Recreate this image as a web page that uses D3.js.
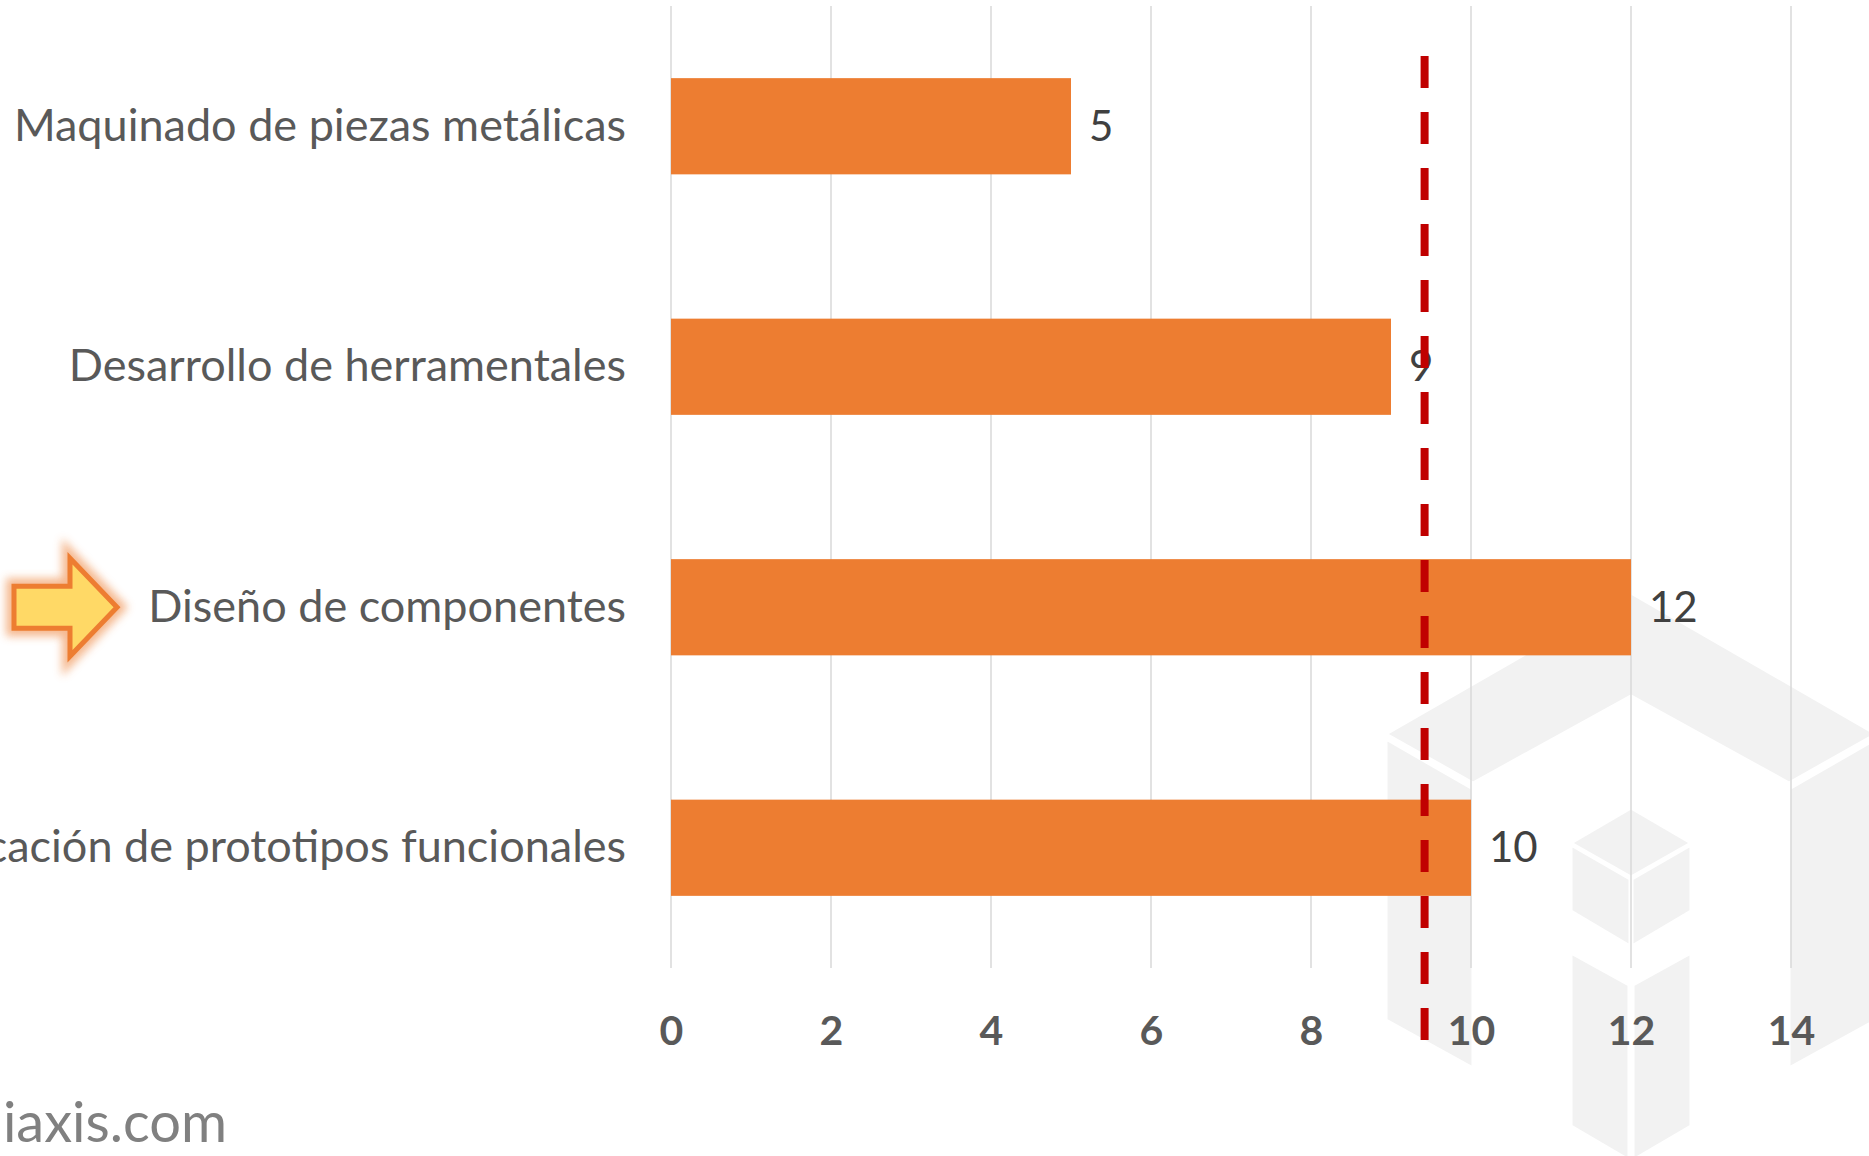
<!DOCTYPE html>
<html>
<head>
<meta charset="utf-8">
<script src="https://cdn.jsdelivr.net/npm/d3@7"></script>
<style>
  html, body { margin: 0; padding: 0; background: #ffffff; }
  svg { display: block; }
</style>
</head>
<body>
<svg id="chart" width="1869" height="1156"></svg>
<script>
// ---- data ----
const categories = [
  "Maquinado de piezas metálicas",
  "Desarrollo de herramentales",
  "Diseño de componentes",
  "Fabricación de prototipos funcionales"
];
const values = [5, 9, 12, 10];
const tickValues = [0, 2, 4, 6, 8, 10, 12, 14];
const tickLabels = ["0", "2", "4", "6", "8", "10", "12", "14"];
const referenceValue = 9.42;
const highlightedCategory = "Diseño de componentes";
const watermarkText = "iaxis.com";

// ---- layout ----
const W = 1869, H = 1156;
const plot = { left: 671, right: 1791, top: 6, bottom: 968 };
const FONT = "Lato, 'Open Sans', 'DejaVu Sans', sans-serif";

const svg = d3.select("#chart");

const x = d3.scaleLinear().domain([0, 14]).range([plot.left, plot.right]);
const y = d3.scaleBand().domain(categories).range([plot.top, plot.bottom])
  .paddingInner(0.6).paddingOuter(0.3);

// ---- background logo watermark (light gray isometric blocks) ----
const logo = svg.append("g").attr("fill", "#f2f2f2").attr("stroke", "#ffffff").attr("stroke-width", 3).attr("stroke-linejoin", "miter");
const poly = pts => "M" + pts.map(p => p.join(",")).join("L") + "Z";
const cx = 1631;
logo.append("path").attr("d", poly([[cx-245,734],[cx,593],[cx+245,734],[cx+158,783],[cx,696],[cx-158,783]]));
logo.append("path").attr("d", poly([[cx-245,739],[cx-158,789],[cx-158,1068],[cx-245,1020]]));
logo.append("path").attr("d", poly([[cx+245,739],[cx+158,789],[cx+158,1068],[cx+245,1020]]));
logo.append("path").attr("d", poly([[cx,808],[cx+60,843],[cx,877],[cx-60,843]]));
logo.append("path").attr("d", poly([[cx-60,845],[cx-1,879],[cx-1,946],[cx-60,911]]));
logo.append("path").attr("d", poly([[cx+60,845],[cx+1,879],[cx+1,946],[cx+60,911]]));
logo.append("path").attr("d", poly([[cx-60,953],[cx-2,985],[cx-2,1160],[cx-60,1126]]));
logo.append("path").attr("d", poly([[cx+60,953],[cx+2,985],[cx+2,1160],[cx+60,1126]]));

// ---- gridlines ----
svg.append("g")
  .selectAll("line")
  .data(tickValues)
  .join("line")
  .attr("x1", d => x(d)).attr("x2", d => x(d))
  .attr("y1", plot.top).attr("y2", plot.bottom)
  .attr("stroke", "#d9d9d9").attr("stroke-width", 1.5);

// ---- x axis labels ----
const xAxis = d3.axisBottom(x).tickValues(tickValues)
  .tickFormat((d, i) => tickLabels[i]).tickSize(0).tickPadding(0);
const gx = svg.append("g").attr("transform", `translate(0,${1031})`).call(xAxis);
gx.select(".domain").remove();
gx.selectAll("text")
  .attr("y", 0).attr("dy", "0.35em")
  .attr("font-family", FONT).attr("font-size", 41).attr("font-weight", 700)
  .attr("fill", "#595959");

// ---- bars ----
svg.append("g")
  .selectAll("rect")
  .data(categories)
  .join("rect")
  .attr("x", x(0))
  .attr("y", d => y(d))
  .attr("width", (d, i) => x(values[i]) - x(0))
  .attr("height", y.bandwidth())
  .attr("fill", "#ED7D31");

// ---- value labels ----
svg.append("g")
  .selectAll("text")
  .data(categories)
  .join("text")
  .attr("x", (d, i) => x(values[i]) + 18)
  .attr("y", d => y(d) + y.bandwidth() / 2)
  .attr("dy", "0.35em")
  .attr("font-family", FONT).attr("font-size", 42)
  .attr("fill", "#404040")
  .text((d, i) => values[i]);

// ---- category labels (y axis) ----
const yAxis = d3.axisLeft(y).tickSize(0).tickPadding(45);
const gy = svg.append("g").attr("transform", `translate(${plot.left},0)`).call(yAxis);
gy.select(".domain").remove();
gy.selectAll("text")
  .attr("font-family", FONT).attr("font-size", 45)
  .attr("fill", "#595959");

// ---- reference dashed line ----
svg.append("line")
  .attr("x1", x(referenceValue)).attr("x2", x(referenceValue))
  .attr("y1", 56).attr("y2", 1040)
  .attr("stroke", "#C00000").attr("stroke-width", 8)
  .attr("stroke-dasharray", "32 24");

// ---- highlight arrow ----
const defs = svg.append("defs");
const f = defs.append("filter").attr("id", "glow").attr("x", "-30%").attr("y", "-30%").attr("width", "160%").attr("height", "160%");
f.append("feGaussianBlur").attr("stdDeviation", 4);

const cyA = y(highlightedCategory) + y.bandwidth() / 2;
const arrowPts = [[14,-21],[70,-21],[70,-49],[117,0],[70,49],[70,21],[14,21]].map(p => [p[0], cyA + p[1]]);
const arrowPath = poly(arrowPts);
svg.append("path").attr("d", arrowPath)
  .attr("fill", "none").attr("stroke", "#F4B183").attr("stroke-width", 16)
  .attr("stroke-linejoin", "miter").attr("opacity", 0.9).attr("filter", "url(#glow)");
svg.append("path").attr("d", arrowPath)
  .attr("fill", "#FFD966").attr("stroke", "#ED7D31").attr("stroke-width", 5)
  .attr("stroke-linejoin", "miter");

// ---- watermark text ----
svg.append("text")
  .attr("x", 227).attr("y", 1142)
  .attr("text-anchor", "end")
  .attr("font-family", FONT).attr("font-size", 56)
  .attr("fill", "#808080")
  .text(watermarkText);
</script>
</body>
</html>
